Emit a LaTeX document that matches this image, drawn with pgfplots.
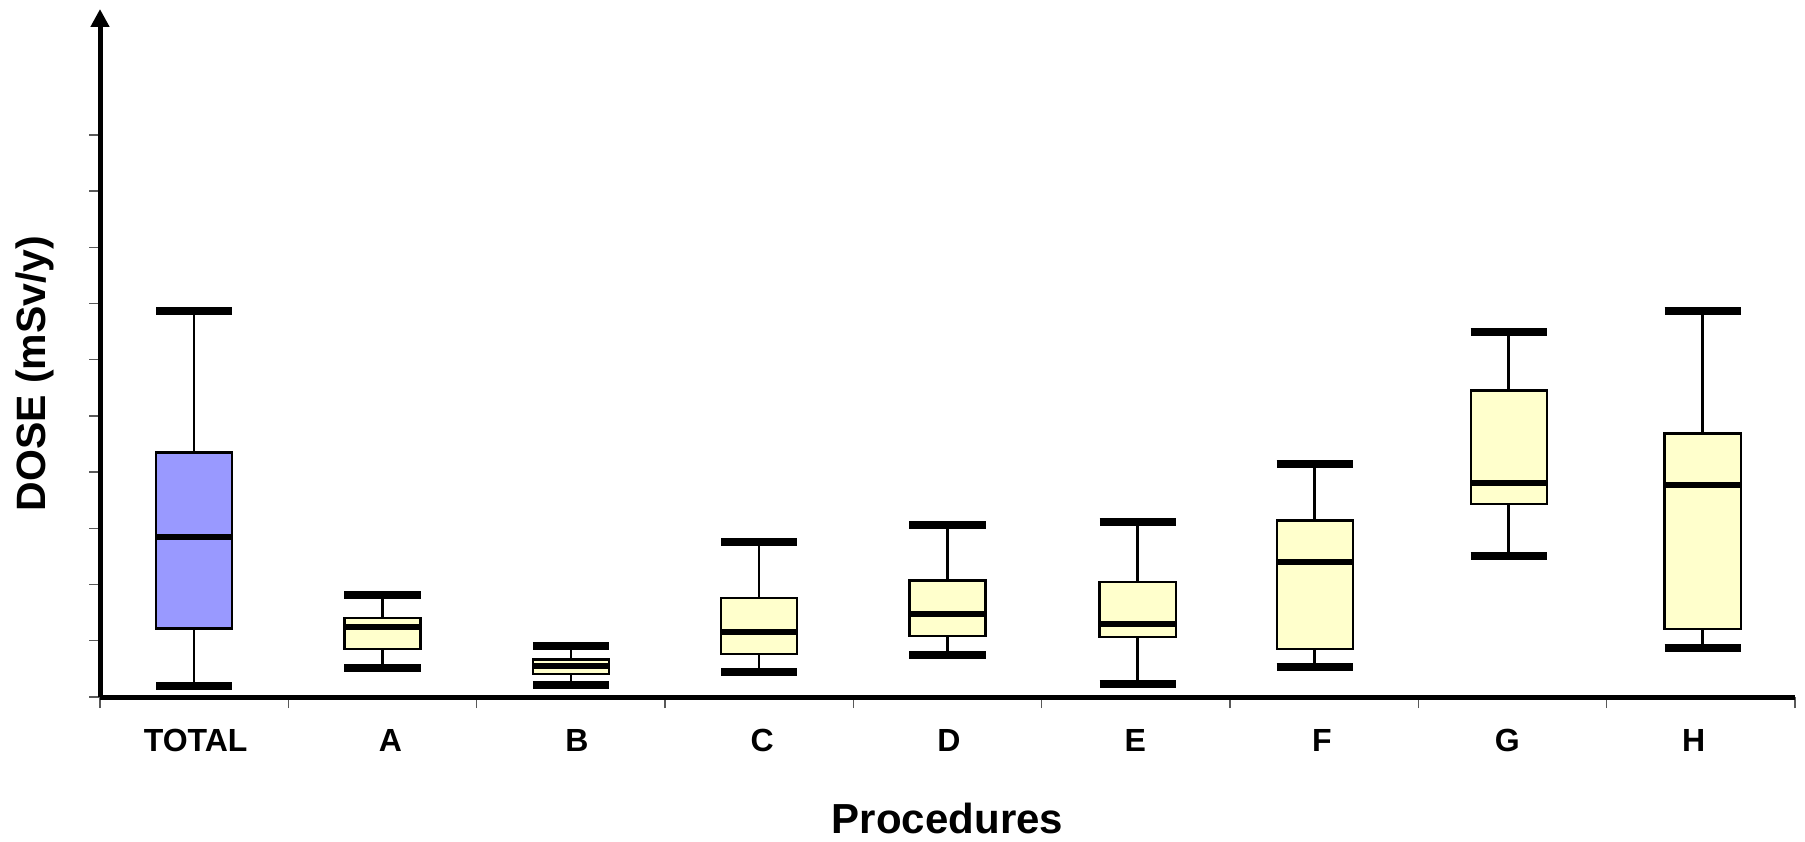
\documentclass[border=0pt]{standalone}
\usepackage{fontspec}
\setmainfont{Liberation Sans}
\usepackage{pgfplots}
\pgfplotsset{compat=1.18}
\usepgfplotslibrary{statistics}
\usetikzlibrary{arrows.meta}
\definecolor{totalblue}{RGB}{153,153,255}
\definecolor{procyellow}{RGB}{255,255,204}
\pgfplotsset{
  mywhiskers/.style={
    boxplot/draw direction=y,
    boxplot/draw/median/.code={\draw[line width=3bp, draw=black, fill=none] (boxplot box cs:\pgfplotsboxplotvalue{median},0) -- (boxplot box cs:\pgfplotsboxplotvalue{median},1);},
    boxplot/draw/lower whisker/.code={%
      \draw[line width=1.3bp, draw=black, fill=none] (boxplot box cs:\pgfplotsboxplotvalue{lower quartile},0.5) -- (boxplot box cs:\pgfplotsboxplotvalue{lower whisker},0.5);
      \draw[line width=4bp, draw=black, fill=none] (boxplot box cs:\pgfplotsboxplotvalue{lower whisker},0) -- (boxplot box cs:\pgfplotsboxplotvalue{lower whisker},1);},
    boxplot/draw/upper whisker/.code={%
      \draw[line width=1.3bp, draw=black, fill=none] (boxplot box cs:\pgfplotsboxplotvalue{upper quartile},0.5) -- (boxplot box cs:\pgfplotsboxplotvalue{upper whisker},0.5);
      \draw[line width=4bp, draw=black, fill=none] (boxplot box cs:\pgfplotsboxplotvalue{upper whisker},0) -- (boxplot box cs:\pgfplotsboxplotvalue{upper whisker},1);},
  },
  yellowbox/.style={mywhiskers,
    boxplot/draw/box/.code={\draw[line width=1.2bp, draw=black, fill=procyellow] (boxplot box cs:\pgfplotsboxplotvalue{lower quartile},0) rectangle (boxplot box cs:\pgfplotsboxplotvalue{upper quartile},1);}},
  bluebox/.style={mywhiskers,
    boxplot/draw/box/.code={\draw[line width=1.2bp, draw=black, fill=totalblue] (boxplot box cs:\pgfplotsboxplotvalue{lower quartile},0) rectangle (boxplot box cs:\pgfplotsboxplotvalue{upper quartile},1);}},
}
\begin{document}
\begin{tikzpicture}
\begin{axis}[
  name=ax,
  scale only axis,
  width=847.5bp, height=344bp,
  xmin=0, xmax=9, ymin=0, ymax=12.24,
  axis lines=left,
  x axis line style={-, line width=2.5bp},
  y axis line style={-{Triangle[width=9bp,length=9bp]}, line width=2.5bp},
  xtick={0,...,9},
  xticklabels={},
  extra x ticks={0.508,1.542,2.532,3.516,4.507,5.497,6.488,7.472,8.462},
  extra x tick labels={TOTAL,A,B,C,D,E,F,G,H},
  extra x tick style={tick style={draw=none}},
  ytick={0,...,10},
  yticklabels={},
  tick align=outside,
  major tick length=5.5bp,
  tick style={gray!70!black, line width=0.7bp},
  xticklabel style={font=\bfseries\fontsize{16bp}{19bp}\selectfont, anchor=base, yshift=-21.8bp},
  xlabel={Procedures},
  ylabel={DOSE (mSv/y)},
  every axis x label/.style={at={(axis description cs:0.5,0)}, anchor=center, yshift=-60.5bp, font=\bfseries\fontsize{21bp}{25bp}\selectfont},
  every axis y label/.style={at={([xshift=-32.5bp]axis description cs:0,0.47)}, anchor=center, rotate=90, font=\bfseries\fontsize{20.5bp}{24bp}\selectfont},
  clip=false,
]
\addplot[bluebox, boxplot prepared={draw position=0.5, box extend=0.404,
  lower whisker=0.20, lower quartile=1.22, median=2.85, upper quartile=4.35, upper whisker=6.87}] coordinates {};
\addplot[yellowbox, boxplot prepared={draw position=1.5, box extend=0.404,
  lower whisker=0.52, lower quartile=0.85, median=1.24, upper quartile=1.41, upper whisker=1.81}] coordinates {};
\addplot[yellowbox, boxplot prepared={draw position=2.5, box extend=0.404,
  lower whisker=0.21, lower quartile=0.41, median=0.56, upper quartile=0.67, upper whisker=0.90}] coordinates {};
\addplot[yellowbox, boxplot prepared={draw position=3.5, box extend=0.404,
  lower whisker=0.44, lower quartile=0.77, median=1.16, upper quartile=1.76, upper whisker=2.76}] coordinates {};
\addplot[yellowbox, boxplot prepared={draw position=4.5, box extend=0.404,
  lower whisker=0.75, lower quartile=1.09, median=1.47, upper quartile=2.07, upper whisker=3.06}] coordinates {};
\addplot[yellowbox, boxplot prepared={draw position=5.51, box extend=0.404,
  lower whisker=0.23, lower quartile=1.07, median=1.29, upper quartile=2.05, upper whisker=3.11}] coordinates {};
\addplot[yellowbox, boxplot prepared={draw position=6.45, box extend=0.404,
  lower whisker=0.53, lower quartile=0.85, median=2.41, upper quartile=3.14, upper whisker=4.15}] coordinates {};
\addplot[yellowbox, boxplot prepared={draw position=7.48, box extend=0.404,
  lower whisker=2.51, lower quartile=3.43, median=3.81, upper quartile=5.45, upper whisker=6.49}] coordinates {};
\addplot[yellowbox, boxplot prepared={draw position=8.51, box extend=0.404,
  lower whisker=0.88, lower quartile=1.21, median=3.78, upper quartile=4.69, upper whisker=6.87}] coordinates {};
\end{axis}
\pgfresetboundingbox
\path[use as bounding box] ([shift={(-50bp,-72bp)}]ax.south west) rectangle ([shift={(5bp,4.5bp)}]ax.north east);
\end{tikzpicture}
\end{document}
